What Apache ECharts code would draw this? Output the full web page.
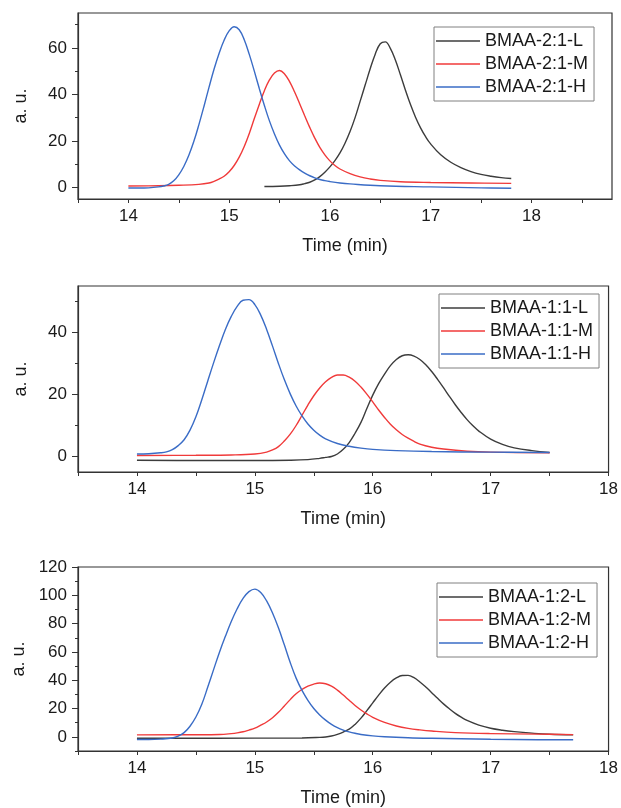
<!DOCTYPE html>
<html>
<head>
<meta charset="utf-8">
<title>BMAA GPC traces</title>
<script src="https://cdn.jsdelivr.net/npm/echarts@6.0.0/dist/echarts.min.js"></script>
<style>
  html, body { margin: 0; padding: 0; background: #fff; }
  #main { width: 621px; height: 808px; }
</style>
</head>
<body>
<div id="main"></div>
<script>
// tick labels
const xLabels = [14, 15, 16, 17, 18];
const xTicks1 = [13.5, 14, 14.5, 15, 15.5, 16, 16.5, 17, 17.5, 18, 18.5];
const xTicks23 = [13.5, 14, 14.5, 15, 15.5, 16, 16.5, 17, 17.5, 18];
const yLabels1 = [0, 20, 40, 60];
const yMinor1 = [10, 30, 50, 70];
const yLabels2 = [0, 20, 40];
const yMinor2 = [10, 30, 50];
const yLabels3 = [0, 20, 40, 60, 80, 100, 120];
const yMinor3 = [-10, 10, 30, 50, 70, 90, 110];

const names1 = ['BMAA-2:1-L', 'BMAA-2:1-M', 'BMAA-2:1-H'];
const names2 = ['BMAA-1:1-L', 'BMAA-1:1-M', 'BMAA-1:1-H'];
const names3 = ['BMAA-1:2-L', 'BMAA-1:2-M', 'BMAA-1:2-H'];

// panel 1 : BMAA-2:1   [time (min), a.u.]
const l21 = [[15.35,0.4],[15.5,0.5],[15.6,0.7],[15.7,1.1],[15.75,1.6],[15.8,2.2],[15.85,3.2],[15.9,4.6],[15.95,6.5],[16.0,8.8],[16.05,11.5],[16.1,14.8],[16.15,19],[16.2,24],[16.25,30],[16.3,37],[16.35,44],[16.4,51],[16.45,57.3],[16.5,61.8],[16.55,62.6],[16.6,59.8],[16.65,54.8],[16.7,48.4],[16.75,41.8],[16.8,35.6],[16.85,30.2],[16.9,25.6],[16.95,21.8],[17.0,18.7],[17.1,14],[17.2,10.8],[17.3,8.5],[17.4,6.8],[17.5,5.6],[17.6,4.8],[17.7,4.2],[17.8,3.8]];
const m21 = [[14.0,0.6],[14.3,0.7],[14.5,0.9],[14.7,1.3],[14.8,1.9],[14.85,2.6],[14.9,3.6],[14.95,4.8],[15.0,6.7],[15.05,9.4],[15.1,13],[15.15,17.6],[15.2,23.2],[15.25,29.6],[15.3,35.8],[15.35,41.6],[15.4,46.2],[15.45,49.2],[15.5,50.3],[15.55,48.8],[15.6,45.5],[15.65,41],[15.7,36],[15.75,30.8],[15.8,25.8],[15.85,21.2],[15.9,17.2],[15.95,14],[16.0,11.4],[16.05,9.4],[16.1,7.9],[16.2,5.9],[16.3,4.5],[16.4,3.6],[16.5,3.0],[16.7,2.4],[17.0,2.1],[17.4,1.9],[17.8,1.7]];
const h21 = [[14.0,-0.3],[14.1,-0.3],[14.2,-0.2],[14.3,0.2],[14.35,0.6],[14.4,1.3],[14.45,2.8],[14.5,5.4],[14.55,9.0],[14.6,13.8],[14.65,19.8],[14.7,27],[14.75,34.8],[14.8,43],[14.85,50.8],[14.9,57.6],[14.95,63.3],[15.0,67.3],[15.05,69.1],[15.1,67.8],[15.15,63.5],[15.2,57.2],[15.25,50],[15.3,42.4],[15.35,35.2],[15.4,28.6],[15.45,23],[15.5,18.2],[15.55,14.4],[15.6,11.4],[15.65,9.2],[15.7,7.5],[15.75,6.1],[15.8,5.0],[15.85,4.1],[15.9,3.4],[15.95,2.9],[16.0,2.5],[16.1,1.9],[16.2,1.5],[16.5,0.7],[17.0,0.2],[17.5,-0.2],[17.8,-0.4]];

// panel 2 : BMAA-1:1
const l11 = [[14.0,-1.2],[14.5,-1.3],[15.0,-1.3],[15.3,-1.2],[15.45,-1.0],[15.55,-0.6],[15.6,-0.3],[15.65,0],[15.7,0.8],[15.75,2.3],[15.8,4.5],[15.85,7.5],[15.9,11],[15.95,15.5],[16.0,19.8],[16.05,23.5],[16.1,26.6],[16.15,29.3],[16.2,31.3],[16.25,32.5],[16.3,32.8],[16.35,32.4],[16.4,31.3],[16.45,29.6],[16.5,27.4],[16.55,24.9],[16.6,22.2],[16.65,19.4],[16.7,16.7],[16.75,14.2],[16.8,11.9],[16.85,9.9],[16.9,8.2],[17.0,5.6],[17.1,3.9],[17.2,2.8],[17.35,1.9],[17.5,1.3]];
const m11 = [[14.0,0.3],[14.5,0.4],[14.8,0.5],[15.0,0.8],[15.1,1.4],[15.15,2.1],[15.2,3.2],[15.25,5],[15.3,7.2],[15.35,10],[15.4,13.3],[15.45,16.6],[15.5,19.6],[15.55,22.1],[15.6,24.1],[15.65,25.5],[15.7,26.3],[15.75,26.3],[15.8,25.6],[15.85,24.3],[15.9,22.4],[15.95,20.1],[16.0,17.6],[16.05,15.0],[16.1,12.6],[16.15,10.4],[16.2,8.6],[16.25,7.1],[16.3,5.9],[16.35,4.9],[16.4,4.0],[16.5,3.0],[16.6,2.4],[16.8,1.7],[17.0,1.4],[17.5,1.2]];
const h11 = [[14.0,0.8],[14.1,0.9],[14.2,1.2],[14.25,1.5],[14.3,2.2],[14.35,3.5],[14.4,5.4],[14.45,8.5],[14.5,12.8],[14.55,18.3],[14.6,24.3],[14.65,30.2],[14.7,35.8],[14.75,41],[14.8,45.2],[14.85,48.4],[14.9,50.4],[14.95,50.6],[15.0,49],[15.05,45.6],[15.1,41],[15.15,35.6],[15.2,30],[15.25,24.8],[15.3,20.2],[15.35,16.3],[15.4,13.1],[15.45,10.5],[15.5,8.5],[15.55,6.9],[15.6,5.7],[15.7,4.2],[15.8,3.3],[15.9,2.7],[16.0,2.3],[16.2,1.9],[16.5,1.6],[17.0,1.4],[17.5,1.3]];

// panel 3 : BMAA-1:2
const l12 = [[14.0,-1.0],[15.0,-0.9],[15.4,-0.8],[15.55,-0.4],[15.6,-0.1],[15.65,0.6],[15.7,1.8],[15.75,3.4],[15.8,5.4],[15.85,8.8],[15.9,13.2],[15.95,18.5],[16.0,24],[16.05,29.5],[16.1,34.5],[16.15,38.6],[16.2,41.6],[16.25,43.3],[16.3,43.4],[16.35,41.8],[16.4,38.8],[16.45,35.2],[16.5,31.2],[16.55,27.2],[16.6,23.3],[16.65,19.8],[16.7,16.6],[16.75,13.9],[16.8,11.6],[16.9,8.3],[17.0,6.1],[17.1,4.7],[17.2,3.7],[17.35,2.6],[17.5,1.8],[17.7,1.4]];
const m12 = [[14.0,1.4],[14.5,1.5],[14.7,1.7],[14.8,2.3],[14.85,2.8],[14.9,3.6],[14.95,4.8],[15.0,6.1],[15.05,8.2],[15.1,10.5],[15.15,13.5],[15.2,17.3],[15.25,21.8],[15.3,26.3],[15.35,30.5],[15.4,33.5],[15.45,35.8],[15.5,37.3],[15.55,38],[15.6,37.5],[15.65,35.8],[15.7,33],[15.75,29.5],[15.8,25.8],[15.85,22.2],[15.9,19],[15.95,16.2],[16.0,13.8],[16.1,10.2],[16.2,7.7],[16.3,6.0],[16.4,4.9],[16.5,4.1],[16.7,3.0],[17.0,2.3],[17.4,1.9],[17.7,1.6]];
const h12 = [[14.0,-1.9],[14.1,-1.9],[14.2,-1.6],[14.3,-0.8],[14.35,0.5],[14.4,3],[14.45,7.5],[14.5,14],[14.55,23],[14.6,35],[14.65,47.5],[14.7,59.8],[14.75,71],[14.8,81.5],[14.85,90.5],[14.9,97.8],[14.95,102.6],[15.0,104.4],[15.05,102],[15.1,96],[15.15,87.5],[15.2,77],[15.25,65],[15.3,52.5],[15.35,41.5],[15.4,32.8],[15.45,25.8],[15.5,20],[15.55,15.5],[15.6,11.8],[15.65,8.8],[15.7,6.5],[15.75,4.8],[15.8,3.5],[15.85,2.5],[15.9,1.7],[16.0,0.7],[16.1,0.1],[16.3,-0.6],[16.5,-1.0],[17.0,-1.7],[17.4,-2.0],[17.7,-2.1]];

const colors = ['#3c3c3c', '#f03a3a', '#3a6cc6'];
const font = '"Liberation Sans", Arial, sans-serif';
const axisColor = '#333';

let chart = echarts.init(document.getElementById('main'), null, { renderer: 'canvas' });

const grids = [
  { left: 78, top: 13, width: 534, height: 186 },
  { left: 78, top: 286, width: 533, height: 186 },
  { left: 78, top: 567, width: 533, height: 186 }
];
const xRanges = [[13.5, 18.8], [13.5, 18], [13.5, 18]];
const xTickSets = [xTicks1, xTicks23, xTicks23];
const yRanges = [[-5, 75], [-5, 55], [-10, 120]];
const yLabelSets = [yLabels1, yLabels2, yLabels3];
const yMinorSets = [yMinor1, yMinor2, yMinor3];
const nameSets = [names1, names2, names3];
const dataSets = [[l21, m21, h21], [l11, m11, h11], [l12, m12, h12]];
const legendPos = [[434, 27], [439, 294], [437, 583]];

let xAxes = [], yAxes = [], series = [], legends = [];
grids.forEach((g, i) => {
  g.show = true;
  g.borderColor = axisColor;
  g.borderWidth = 1.2;
  g.backgroundColor = 'transparent';

  xAxes.push({
    type: 'value', gridIndex: i,
    min: xRanges[i][0], max: xRanges[i][1],
    name: 'Time (min)', nameLocation: 'middle', nameGap: 38,
    nameTextStyle: { fontFamily: font, fontSize: 18, color: '#1a1a1a' },
    splitLine: { show: false },
    axisLine: { show: true, onZero: false, lineStyle: { color: axisColor, width: 1.2 } },
    axisTick: { show: true, length: 4, customValues: xTickSets[i], lineStyle: { color: axisColor } },
    axisLabel: { customValues: xLabels, margin: 9, fontFamily: font, fontSize: 17, color: '#1a1a1a' }
  });

  yAxes.push({
    type: 'value', gridIndex: i, position: 'left',
    min: yRanges[i][0], max: yRanges[i][1],
    name: 'a. u.', nameLocation: 'middle', nameGap: 48, nameRotate: 90,
    nameTextStyle: { fontFamily: font, fontSize: 18, color: '#1a1a1a' },
    splitLine: { show: false },
    axisLine: { show: true, onZero: false, lineStyle: { color: axisColor, width: 1.2 } },
    axisTick: { show: true, length: 6, customValues: yLabelSets[i], lineStyle: { color: axisColor } },
    axisLabel: { customValues: yLabelSets[i], margin: 11, fontFamily: font, fontSize: 17, color: '#1a1a1a' }
  });
  // minor ticks on the same left edge
  yAxes.push({
    type: 'value', gridIndex: i, position: 'left', offset: 0,
    min: yRanges[i][0], max: yRanges[i][1],
    splitLine: { show: false },
    axisLine: { show: false },
    axisTick: { show: true, length: 3, customValues: yMinorSets[i], lineStyle: { color: axisColor } },
    axisLabel: { show: false }
  });

  dataSets[i].forEach((d, k) => {
    series.push({
      name: nameSets[i][k],
      type: 'line',
      xAxisIndex: i,
      yAxisIndex: i * 2,
      data: d,
      symbol: 'none',
      smooth: 0.4,
      color: colors[k],
      lineStyle: { color: colors[k], width: 1.4 }
    });
  });

  legends.push({
    data: nameSets[i],
    orient: 'vertical',
    left: legendPos[i][0], top: legendPos[i][1],
    icon: 'rect',
    itemWidth: 44, itemHeight: 1.6, itemGap: 5,
    padding: [5, 6, 5, 2],
    borderColor: '#808080', borderWidth: 1,
    backgroundColor: '#fff',
    selectedMode: false,
    textStyle: { fontFamily: font, fontSize: 18, color: '#1a1a1a' }
  });
});

chart.setOption({
  animation: false,
  backgroundColor: '#fff',
  grid: grids,
  xAxis: xAxes,
  yAxis: yAxes,
  legend: legends,
  series: series
});
</script>
</body>
</html>
